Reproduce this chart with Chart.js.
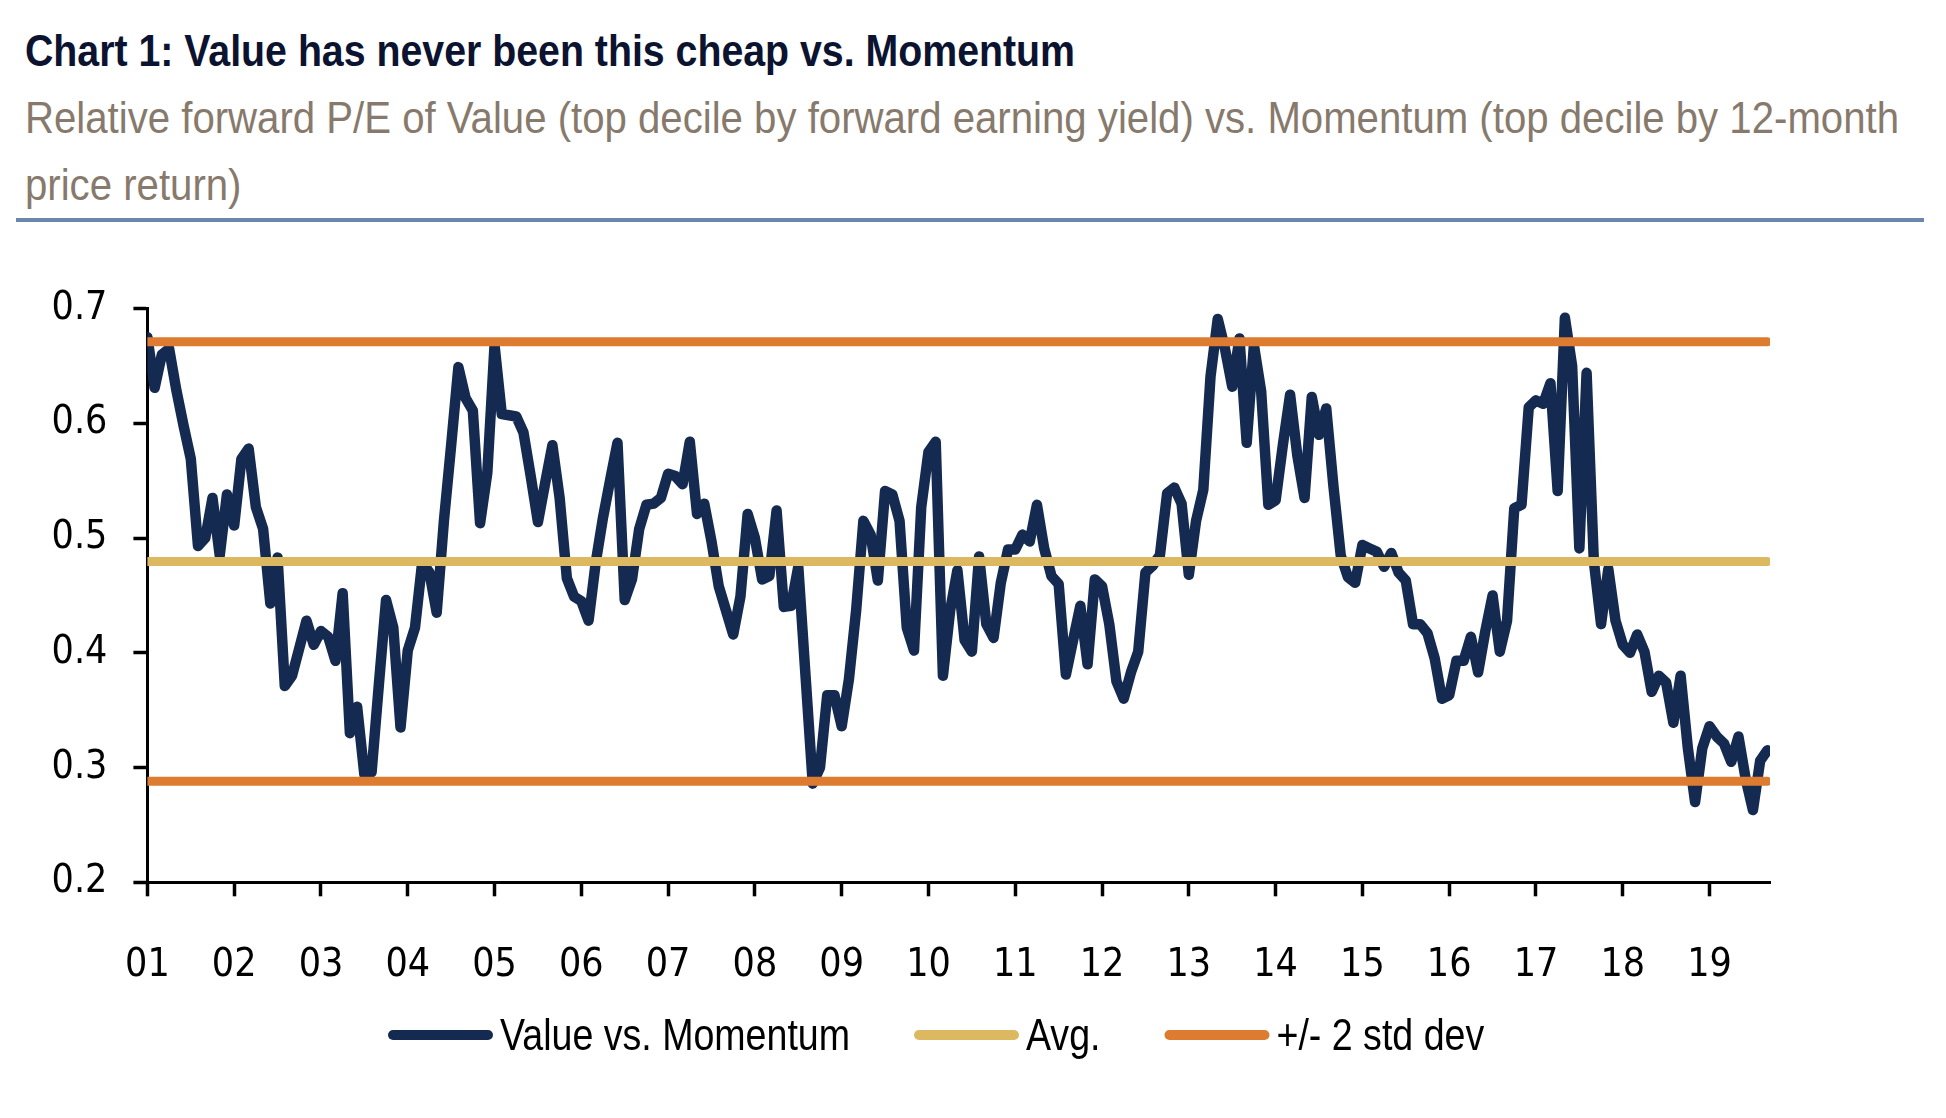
<!DOCTYPE html>
<html>
<head>
<meta charset="utf-8">
<script src="https://cdn.jsdelivr.net/npm/chart.js@4.4.1/dist/chart.umd.min.js"></script>
<style>
    html, body { margin: 0; padding: 0; background: #ffffff; }
    body { width: 1946px; height: 1118px; position: relative; overflow: hidden;
           font-family: "Liberation Sans", Arial, sans-serif; }
    .narrow { display: inline-block; white-space: nowrap; transform-origin: 0 0; }
    #title { position: absolute; left: 25px; top: 28px; font-size: 45px; line-height: 45px;
             font-weight: bold; color: #0b1330; }
    #subtitle { position: absolute; left: 25px; top: 84px; font-size: 45px; line-height: 67px;
                color: #877a6c; }
    #subtitle div { height: 67px; }
    #rule { position: absolute; left: 16px; top: 218px; width: 1908px; height: 4px; background: #6b87ab; }
    #wrap { position: absolute; left: 0; top: 240px; width: 1870px; height: 860px; }
</style>
</head>
<body>
<div id="title"><span class="narrow" id="titleText">Chart 1: Value has never been this cheap vs. Momentum</span></div>
<div id="subtitle">
    <div><span class="narrow" id="sub1">Relative forward P/E of Value (top decile by forward earning yield) vs. Momentum (top decile by 12-month</span></div>
    <div><span class="narrow" id="sub2">price return)</span></div>
</div>
<div id="rule"></div>
<div id="wrap"><canvas id="chart"></canvas></div>
<script>
const TICK_FONT = '"DejaVu Sans Condensed", "Liberation Sans", sans-serif';
const LEGEND_FONT = '"Liberation Sans", Arial, sans-serif';

// monthly, Jan 2001 .. Sep 2019
const startYear = 2001;
const valueVsMomentum = [
    0.675, 0.631, 0.660, 0.665, 0.629, 0.598, 0.569, 0.493, 0.500, 0.535, 0.485, 0.538, // 01
    0.511, 0.569, 0.578, 0.527, 0.508, 0.443, 0.483, 0.371, 0.380, 0.404, 0.428, 0.407, // 02
    0.419, 0.414, 0.393, 0.452, 0.330, 0.353, 0.294, 0.296, 0.372, 0.446, 0.422, 0.335, // 03
    0.402, 0.422, 0.479, 0.470, 0.435, 0.515, 0.581, 0.649, 0.622, 0.611, 0.513, 0.557, // 04
    0.668, 0.608, 0.607, 0.606, 0.592, 0.554, 0.514, 0.548, 0.581, 0.535, 0.465, 0.449, // 05
    0.445, 0.428, 0.479, 0.518, 0.551, 0.583, 0.446, 0.464, 0.508, 0.529, 0.530, 0.535, // 06
    0.556, 0.554, 0.547, 0.584, 0.521, 0.530, 0.497, 0.458, 0.437, 0.416, 0.449, 0.521, // 07
    0.500, 0.464, 0.467, 0.524, 0.440, 0.441, 0.475, 0.380, 0.286, 0.300, 0.363, 0.363, // 08
    0.336, 0.377, 0.437, 0.515, 0.503, 0.463, 0.541, 0.538, 0.515, 0.422, 0.402, 0.527, // 09
    0.575, 0.584, 0.380, 0.437, 0.472, 0.411, 0.401, 0.484, 0.425, 0.413, 0.461, 0.490, // 10
    0.490, 0.503, 0.497, 0.529, 0.491, 0.467, 0.460, 0.381, 0.411, 0.441, 0.390, 0.464, // 11
    0.458, 0.425, 0.375, 0.360, 0.383, 0.401, 0.470, 0.476, 0.485, 0.539, 0.544, 0.530, // 12
    0.468, 0.515, 0.542, 0.641, 0.691, 0.665, 0.632, 0.674, 0.583, 0.668, 0.628, 0.529, // 13
    0.533, 0.581, 0.625, 0.572, 0.535, 0.623, 0.590, 0.613, 0.545, 0.485, 0.466, 0.461, // 14
    0.494, 0.491, 0.488, 0.475, 0.487, 0.470, 0.463, 0.425, 0.425, 0.417, 0.395, 0.360, // 15
    0.363, 0.393, 0.393, 0.414, 0.383, 0.419, 0.450, 0.401, 0.428, 0.526, 0.529, 0.614, // 16
    0.620, 0.617, 0.635, 0.541, 0.692, 0.650, 0.491, 0.644, 0.480, 0.425, 0.473, 0.428, // 17
    0.407, 0.400, 0.416, 0.401, 0.366, 0.380, 0.374, 0.339, 0.380, 0.317, 0.270, 0.317, // 18
    0.336, 0.327, 0.321, 0.305, 0.327, 0.290, 0.263, 0.306, 0.315                          // 19
];
const average = 0.4795;
const upperBand = 0.671;
const lowerBand = 0.288;
const yearLabels = ['01', '02', '03', '04', '05', '06', '07', '08', '09', '10',
                    '11', '12', '13', '14', '15', '16', '17', '18', '19'];

const NAVY = '#142a50';
const GOLD = '#dcb960';
const ORANGE = '#dd7c30';

// squeeze the header text to the narrow look of the original
function squeeze(el, target) {
    const w = el.getBoundingClientRect().width;
    const s = target / w;
    el.style.transform = 'scaleX(' + s + ')';
    return s;
}
squeeze(document.getElementById('titleText'), 1050);
const subScale = squeeze(document.getElementById('sub1'), 1874);
document.getElementById('sub2').style.transform = 'scaleX(' + subScale + ')';

const seriesPoints = valueVsMomentum.map((v, i) => ({ x: startYear + i / 12, y: v }));
const firstX = startYear;
const lastX = startYear + (valueVsMomentum.length - 1) / 12;
const flatLine = (level) => [{ x: firstX, y: level }, { x: lastX, y: level }];

// legend drawn under the axis: line swatch + narrow text
const bottomLegend = {
    id: 'bottomLegend',
    afterDraw(chart) {
        const ctx = chart.ctx;
        const items = chart.data.datasets.filter(ds => ds.label !== 'lower');
        const y = 795;
        ctx.save();
        ctx.font = '45px ' + LEGEND_FONT;
        const sx = 350 / ctx.measureText(items[0].label).width;
        let x = 388;
        items.forEach(ds => {
            ctx.strokeStyle = ds.borderColor;
            ctx.lineWidth = 10;
            ctx.lineCap = 'round';
            ctx.beginPath();
            ctx.moveTo(x + 5, y);
            ctx.lineTo(x + 100, y);
            ctx.stroke();

            const tx = x + 112;
            const tw = ctx.measureText(ds.label).width * sx;
            ctx.save();
            ctx.translate(tx, y + 15);
            ctx.scale(sx, 1);
            ctx.fillStyle = '#000000';
            ctx.textBaseline = 'alphabetic';
            ctx.fillText(ds.label, 0, 0);
            ctx.restore();
            x = tx + tw + 64;
        });
        ctx.restore();
    }
};

const ctx = document.getElementById('chart');
const chart = new Chart(ctx, {
    type: 'line',
    data: {
        datasets: [
            {
                label: 'Value vs. Momentum',
                data: seriesPoints,
                borderColor: NAVY,
                backgroundColor: NAVY,
                borderWidth: 10.5,
                borderJoinStyle: 'round',
                borderCapStyle: 'round',
                pointRadius: 0,
                tension: 0,
                order: 3
            },
            {
                label: 'Avg.',
                data: flatLine(average),
                borderColor: GOLD,
                backgroundColor: GOLD,
                borderWidth: 9,
                borderCapStyle: 'round',
                pointRadius: 0,
                order: 2
            },
            {
                label: '+/- 2 std dev',
                data: flatLine(upperBand),
                borderColor: ORANGE,
                backgroundColor: ORANGE,
                borderWidth: 9,
                borderCapStyle: 'round',
                pointRadius: 0,
                order: 1
            },
            {
                label: 'lower',
                data: flatLine(lowerBand),
                borderColor: ORANGE,
                backgroundColor: ORANGE,
                borderWidth: 9,
                borderCapStyle: 'round',
                pointRadius: 0,
                order: 1
            }
        ]
    },
    options: {
        responsive: true,
        maintainAspectRatio: false,
        animation: false,
        layout: {
            padding: { top: 68.6, left: 0, right: 100, bottom: 107.7 }
        },
        plugins: {
            tooltip: { enabled: false },
            legend: { display: false }
        },
        scales: {
            x: {
                type: 'linear',
                min: firstX,
                max: lastX + 0.03,
                afterFit: (scale) => { scale.height = 110; },
                border: { display: true, color: '#000000', width: 3 },
                grid: {
                    drawOnChartArea: false,
                    drawTicks: true,
                    tickLength: 14,
                    tickWidth: 3.5,
                    tickColor: '#000000'
                },
                ticks: {
                    stepSize: 1,
                    includeBounds: false,
                    autoSkip: false,
                    maxRotation: 0,
                    padding: 46,
                    color: '#000000',
                    font: { family: TICK_FONT, size: 39 },
                    callback: (value) => yearLabels[Math.round(value) - startYear]
                }
            },
            y: {
                min: 0.2,
                max: 0.7,
                afterFit: (scale) => { scale.width = 147.4; },
                border: { display: true, color: '#000000', width: 3 },
                grid: {
                    drawOnChartArea: false,
                    drawTicks: true,
                    tickLength: 14,
                    tickWidth: 3.5,
                    tickColor: '#000000'
                },
                ticks: {
                    stepSize: 0.1,
                    padding: 26,
                    color: '#000000',
                    font: { family: TICK_FONT, size: 39 },
                    callback: (value) => value.toFixed(1)
                }
            }
        }
    },
    plugins: [bottomLegend]
});
</script>
</body>
</html>
